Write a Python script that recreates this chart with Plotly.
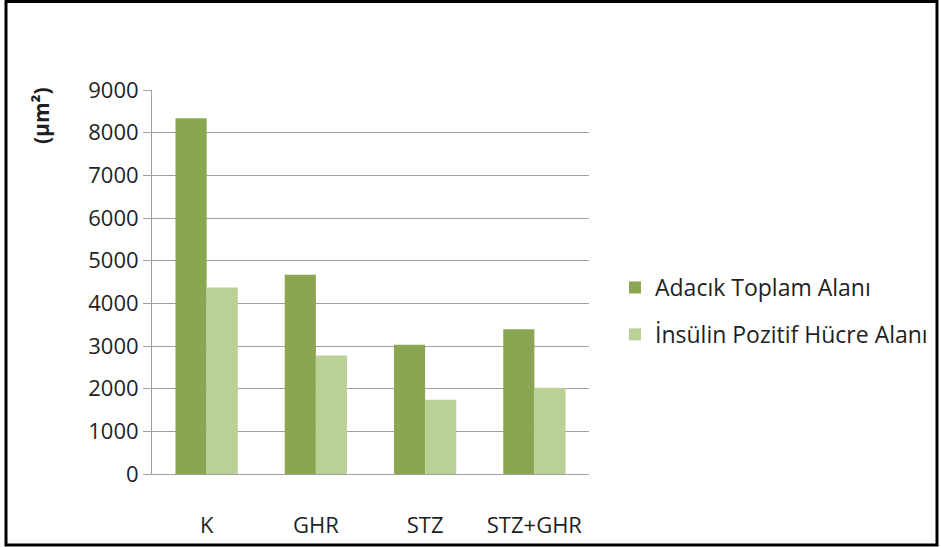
import plotly.graph_objects as go

groups = ["K", "GHR", "STZ", "STZ+GHR"]
adacik_toplam = [8340, 4670, 3030, 3390]
insulin_pozitif = [4370, 2780, 1740, 2020]
y_ticks = [0, 1000, 2000, 3000, 4000, 5000, 6000, 7000, 8000, 9000]

font_family = "Open Sans, Noto Sans, sans-serif"
text_color = "#1f1f1f"

fig = go.Figure()
fig.add_trace(go.Bar(
    x=groups, y=adacik_toplam, name="Adacık Toplam Alanı",
    marker=dict(color="#8BA651", line=dict(width=0)),
    legendgroup="a",
))
fig.add_trace(go.Bar(
    x=groups, y=insulin_pozitif, name="İnsülin Pozitif Hücre Alanı",
    marker=dict(color="#BBD097", line=dict(width=0)),
    legendgroup="b",
))

L, R, T, B = 152, 352, 90, 73
W, H = 941, 547
pw, ph = W - L - R, H - T - B

def px_x(x):
    return (x - L) / pw

def px_y(y):
    return (H - B - y) / ph

fig.update_layout(
    width=W, height=H,
    margin=dict(l=L, r=R, t=T, b=B, pad=0, autoexpand=False),
    paper_bgcolor="white", plot_bgcolor="white",
    barmode="group", bargap=0.43, bargroupgap=0,
    font=dict(family=font_family, color=text_color, size=22),
    showlegend=True,
    legend=dict(
        x=px_x(615), y=px_y(311), xanchor="left", yanchor="middle",
        font=dict(size=23, color=text_color),
        tracegroupgap=14, itemwidth=30,
        bgcolor="rgba(0,0,0,0)",
    ),
    xaxis=dict(
        showgrid=False, showline=True, linecolor="#a0a0a0", linewidth=1,
        ticks="", tickfont=dict(size=22, color=text_color),
        ticklabelstandoff=32, automargin=False,
    ),
    yaxis=dict(
        range=[0, 9000], tickvals=y_ticks,
        showgrid=True, gridcolor="#a0a0a0", gridwidth=1,
        showline=True, linecolor="#a0a0a0", linewidth=1,
        ticks="outside", ticklen=8, tickcolor="#a0a0a0",
        tickfont=dict(size=22, color=text_color),
        zeroline=False, automargin=False,
    ),
    annotations=[
        dict(
            text="<b>(µm²)</b>", textangle=-90,
            xref="paper", yref="paper",
            x=px_x(41), y=px_y(116), xanchor="center", yanchor="middle",
            showarrow=False, font=dict(size=21, color=text_color),
        )
    ],
    shapes=[
        dict(
            type="rect", xref="paper", yref="paper",
            x0=px_x(6), x1=px_x(937), y0=px_y(545), y1=px_y(1.5),
            line=dict(color="black", width=3), fillcolor="rgba(0,0,0,0)",
        )
    ],
)

fig.write_html("out.html")
